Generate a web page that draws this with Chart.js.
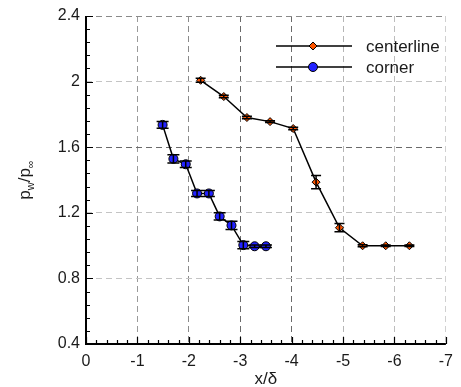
<!DOCTYPE html>
<html>
<head>
<meta charset="utf-8">
<script src="https://cdn.jsdelivr.net/npm/chart.js@4.4.1/dist/chart.umd.min.js"></script>
<style>
  html, body { margin: 0; padding: 0; background: #fff; }
  #wrap { width: 461px; height: 387px; }
</style>
</head>
<body>
<div id="wrap"><canvas id="chart" width="461" height="387"></canvas></div>
<script>
// data
const centerX = [-2.23, -2.68, -3.13, -3.58, -4.03, -4.475, -4.93, -5.38, -5.83, -6.29];
const centerY = [2.008, 1.909, 1.781, 1.756, 1.714, 1.387, 1.109, 0.999, 0.999, 0.999];
const centerErr = [0.012, 0.008, 0.008, 0.006, 0.008, 0.04, 0.025, 0.006, 0.004, 0.004];

const cornerX = [-1.49, -1.70, -1.94, -2.16, -2.39, -2.60, -2.83, -3.06, -3.28, -3.50];
const cornerY = [1.736, 1.529, 1.496, 1.318, 1.318, 1.178, 1.123, 1.003, 0.996, 0.996];
const cornerErr = [0.02, 0.025, 0.02, 0.018, 0.018, 0.022, 0.025, 0.022, 0.008, 0.008];

const xTicks = [0, -1, -2, -3, -4, -5, -6, -7];
const yTicks = [0.4, 0.8, 1.2, 1.6, 2, 2.4];

const seriesLabels = ["centerline", "corner"];

const toPts = (xs, ys) => xs.map((x, i) => ({ x: x, y: ys[i] }));

// grid shades as in the picture (some lines darker than others)
const xGridColor = { "-1": "#9a9a9a", "-2": "#8a8a8a", "-3": "#6a6a6a", "-4": "#6a6a6a", "-5": "#b5b5b5", "-6": "#bdbdbd", "-7": "#d0d0d0" };
const yGridColor = { "0.8": "#c4c4c4", "1.2": "#c4c4c4", "1.6": "#6a6a6a", "2": "#c4c4c4", "2.4": "#8a8a8a" };

const FONT = "'Liberation Sans', Arial, sans-serif";

const extras = {
  id: "extras",
  afterDatasetsDraw(chart) {
    const ctx = chart.ctx;
    const xs = chart.scales.x, ys = chart.scales.y;

    // error bars
    ctx.save();
    ctx.strokeStyle = "#000";
    ctx.lineWidth = 1.5;
    const bars = [[centerX, centerY, centerErr, 5], [cornerX, cornerY, cornerErr, 6]];
    bars.forEach(([bx, by, be, cap]) => {
      bx.forEach((x, i) => {
        const px = xs.getPixelForValue(x);
        const top = ys.getPixelForValue(by[i] + be[i]);
        const bot = ys.getPixelForValue(by[i] - be[i]);
        ctx.beginPath();
        ctx.moveTo(px, top); ctx.lineTo(px, bot);
        ctx.moveTo(px - cap, top); ctx.lineTo(px + cap, top);
        ctx.moveTo(px - cap, bot); ctx.lineTo(px + cap, bot);
        ctx.stroke();
      });
    });
    ctx.restore();
  },
  afterDraw(chart) {
    const ctx = chart.ctx;
    const xs = chart.scales.x, ys = chart.scales.y;
    const area = chart.chartArea;

    ctx.save();
    // axis lines
    ctx.strokeStyle = "#000";
    ctx.lineWidth = 2;
    ctx.beginPath();
    ctx.moveTo(area.left, area.top);
    ctx.lineTo(area.left, area.bottom);
    ctx.lineTo(area.right, area.bottom);
    ctx.stroke();

    // inward tick marks, major and minor
    ctx.lineWidth = 1.2;
    ctx.beginPath();
    for (let v = 0; v >= -7.0001; v -= 0.2) {
      const px = Math.round(xs.getPixelForValue(v)) + 0.5;
      const major = Math.abs(v - Math.round(v)) < 1e-6;
      const len = major ? 7 : 4;
      ctx.moveTo(px, area.bottom); ctx.lineTo(px, area.bottom - len);
    }
    for (let v = 0.4; v <= 2.4001; v += 0.08) {
      const py = Math.round(ys.getPixelForValue(v)) + 0.5;
      const major = Math.abs(v / 0.4 - Math.round(v / 0.4)) < 1e-6;
      const len = major ? 7 : 4;
      ctx.moveTo(area.left, py); ctx.lineTo(area.left + len, py);
    }
    ctx.stroke();

    // legend
    const legendY = [46, 67];
    ctx.font = "17px " + FONT;
    ctx.textBaseline = "middle";
    chart.data.datasets.forEach((ds, i) => {
      const y = legendY[i];
      ctx.strokeStyle = "#000";
      ctx.lineWidth = 1.5;
      ctx.beginPath();
      ctx.moveTo(276, y); ctx.lineTo(352, y);
      ctx.stroke();
      ctx.lineWidth = 1;
      ctx.fillStyle = ds.pointBackgroundColor;
      Chart.helpers.drawPoint(ctx, { pointStyle: ds.pointStyle, radius: ds.pointRadius, borderWidth: 1 }, 313, y);
      ctx.fillStyle = "#1a1a1a";
      ctx.fillText(ds.label, 366, y + 1);
    });

    // axis titles
    ctx.fillStyle = "#1a1a1a";
    ctx.textAlign = "center";
    ctx.textBaseline = "alphabetic";
    ctx.font = "17px " + FONT;
    ctx.fillText("x/\u03b4", (area.left + area.right) / 2, 384);

    // y title: p_w / p_inf rotated
    ctx.translate(30, 180);
    ctx.rotate(-Math.PI / 2);
    const big = "17px " + FONT, small = "11px " + FONT;
    const parts = [["p", big, 0], ["w", small, 4], ["/p", big, 0], ["\u221e", small, 4]];
    let total = 0;
    parts.forEach(([t, f]) => { ctx.font = f; total += ctx.measureText(t).width; });
    let cx = -total / 2;
    ctx.textAlign = "left";
    parts.forEach(([t, f, dy]) => {
      ctx.font = f;
      ctx.fillText(t, cx, dy);
      cx += ctx.measureText(t).width;
    });
    ctx.restore();
  }
};

new Chart(document.getElementById("chart"), {
  type: "scatter",
  data: {
    datasets: [
      {
        label: seriesLabels[0],
        data: toPts(centerX, centerY),
        showLine: true,
        borderColor: "#000",
        borderWidth: 1.5,
        pointStyle: "rectRot",
        pointRadius: 4,
        pointBackgroundColor: "#ff5500",
        pointBorderColor: "#000",
        pointBorderWidth: 1
      },
      {
        label: seriesLabels[1],
        data: toPts(cornerX, cornerY),
        showLine: true,
        borderColor: "#000",
        borderWidth: 1.5,
        pointStyle: "circle",
        pointRadius: 4.5,
        pointBackgroundColor: "#2222ff",
        pointBorderColor: "#000",
        pointBorderWidth: 1
      }
    ]
  },
  options: {
    responsive: false,
    animation: false,
    devicePixelRatio: 1,
    layout: { padding: { top: 16, right: 15, left: 0, bottom: 0 } },
    plugins: { legend: { display: false }, tooltip: { enabled: false } },
    scales: {
      x: {
        type: "linear",
        min: -7,
        max: 0,
        reverse: true,
        afterBuildTicks: (s) => { s.ticks = xTicks.map(v => ({ value: v })); },
        afterFit: (s) => { s.height = 43; },
        border: { display: false, dash: [6, 4] },
        grid: {
          drawTicks: false,
          color: (c) => c.tick && c.tick.value === 0 ? "rgba(0,0,0,0)" : (xGridColor[String(c.tick && c.tick.value)] || "#aaa"),
          lineWidth: 1
        },
        ticks: {
          color: "#1a1a1a",
          font: { family: FONT, size: 16 },
          padding: 8,
          maxRotation: 0,
          callback: (v) => String(v)
        }
      },
      y: {
        type: "linear",
        min: 0.4,
        max: 2.4,
        afterBuildTicks: (s) => { s.ticks = yTicks.map(v => ({ value: v })); },
        afterFit: (s) => { s.width = 86; },
        border: { display: false, dash: [6, 4] },
        grid: {
          drawTicks: false,
          color: (c) => c.tick && c.tick.value === 0.4 ? "rgba(0,0,0,0)" : (yGridColor[String(c.tick && c.tick.value)] || "#aaa"),
          lineWidth: 1
        },
        ticks: {
          color: "#1a1a1a",
          font: { family: FONT, size: 16 },
          padding: 6,
          callback: (v) => String(v)
        }
      }
    }
  },
  plugins: [extras]
});
</script>
</body>
</html>
